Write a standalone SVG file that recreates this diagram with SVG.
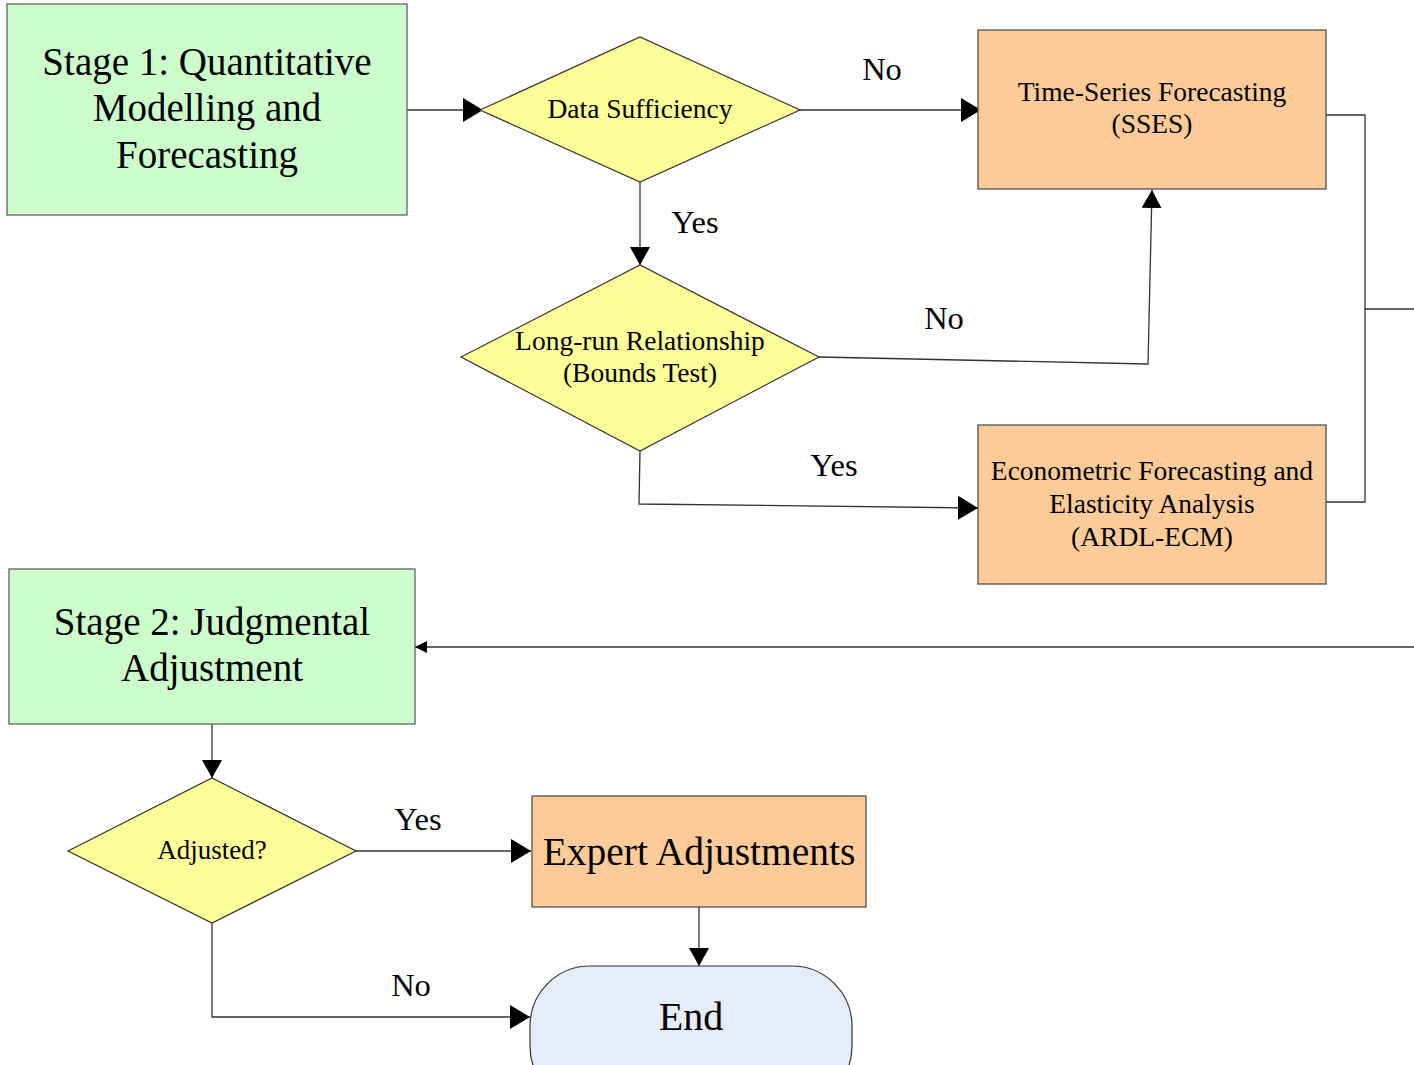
<svg xmlns="http://www.w3.org/2000/svg" width="1414" height="1065" viewBox="0 0 1414 1065">
<style>
text{font-family:"Liberation Serif","Times New Roman",serif;fill:#000;text-anchor:middle}
.green{fill:#CCFFCC;stroke:#555;stroke-width:1.2}
.orange{fill:#FFCC99;stroke:#444;stroke-width:1.2}
.yellow{fill:#FFFF99;stroke:#333;stroke-width:1.2}
.end{fill:#E6EDF8;stroke:#333;stroke-width:1.2}
.conn{fill:none;stroke:#333;stroke-width:1.3}
.big{font-size:39px}
.mid{font-size:27.5px}
.lbl{font-size:32.5px}
</style>
<defs>
<marker id="ah" viewBox="0 0 20 24" refX="20" refY="12" markerWidth="20" markerHeight="24" markerUnits="userSpaceOnUse" orient="auto">
<path d="M0,0 L20,12 L0,24 z" fill="#000"/>
</marker>
<marker id="ahm" viewBox="0 0 18 20" refX="18" refY="10" markerWidth="18" markerHeight="20" markerUnits="userSpaceOnUse" orient="auto">
<path d="M0,0 L18,10 L0,20 z" fill="#000"/>
</marker>
<marker id="ahs" viewBox="0 0 12 12" refX="12" refY="6" markerWidth="12" markerHeight="12" markerUnits="userSpaceOnUse" orient="auto">
<path d="M0,0 L12,6 L0,12 z" fill="#000"/>
</marker>
</defs>
<rect width="1414" height="1065" fill="#fff"/>

<g id="connectors">
<path class="conn" d="M407,110 L483,110" marker-end="url(#ah)"/>
<path class="conn" d="M800,110 L981,110" marker-end="url(#ah)"/>
<path class="conn" d="M640,182 L640,265" marker-end="url(#ahm)"/>
<path class="conn" d="M819,357 L1148,364 L1152,190" marker-end="url(#ahm)"/>
<path class="conn" d="M640,451 L639,504 L978,508" marker-end="url(#ah)"/>
<path class="conn" d="M1326,115 L1365,115 L1365,502 L1326,502"/>
<path class="conn" d="M1365,309 L1414,309"/>
<path class="conn" d="M1414,647 L415,647" marker-end="url(#ahs)"/>
<path class="conn" d="M212,724 L212,778" marker-end="url(#ahm)"/>
<path class="conn" d="M356,851 L531,851" marker-end="url(#ah)"/>
<path class="conn" d="M699,907 L699,966" marker-end="url(#ahm)"/>
<path class="conn" d="M212,923 L212,1017 L530,1017" marker-end="url(#ah)"/>
<text class="lbl" x="882" y="80">No</text>
<text class="lbl" x="695" y="233">Yes</text>
<text class="lbl" x="944" y="329">No</text>
<text class="lbl" x="834" y="476">Yes</text>
<text class="lbl" x="418" y="830">Yes</text>
<text class="lbl" x="411" y="996">No</text>
</g>

<g id="stage1">
<rect class="green" x="7" y="4" width="400" height="211"/>
<text class="big" x="207" y="75">Stage 1: Quantitative</text>
<text class="big" x="207" y="121">Modelling and</text>
<text class="big" x="207" y="168">Forecasting</text>
</g>

<g id="data-sufficiency">
<polygon class="yellow" points="480,110 640,37 800,110 640,182"/>
<text class="mid" x="640" y="118">Data Sufficiency</text>
</g>

<g id="time-series">
<rect class="orange" x="978" y="30" width="348" height="159"/>
<text class="mid" x="1152" y="101">Time-Series Forecasting</text>
<text class="mid" x="1152" y="133">(SSES)</text>
</g>

<g id="long-run">
<polygon class="yellow" points="461,357 640,265 819,357 640,451"/>
<text class="mid" x="640" y="350">Long-run Relationship</text>
<text class="mid" x="640" y="382">(Bounds Test)</text>
</g>

<g id="econometric">
<rect class="orange" x="978" y="425" width="348" height="159"/>
<text class="mid" x="1152" y="480">Econometric Forecasting and</text>
<text class="mid" x="1152" y="513">Elasticity Analysis</text>
<text class="mid" x="1152" y="546">(ARDL-ECM)</text>
</g>

<g id="stage2">
<rect class="green" x="9" y="569" width="406" height="155"/>
<text class="big" x="212" y="635">Stage 2: Judgmental</text>
<text class="big" x="212" y="681">Adjustment</text>
</g>

<g id="adjusted">
<polygon class="yellow" points="68,851 212,778 356,851 212,923"/>
<text x="212" y="859" style="font-size:27px">Adjusted?</text>
</g>

<g id="expert">
<rect class="orange" x="532" y="796" width="334" height="111"/>
<text x="699" y="865" style="font-size:39.5px">Expert Adjustments</text>
</g>

<g id="end">
<rect class="end" x="530" y="966" width="322" height="140" rx="60" ry="60"/>
<text x="691" y="1030" style="font-size:40px">End</text>
</g>
</svg>
